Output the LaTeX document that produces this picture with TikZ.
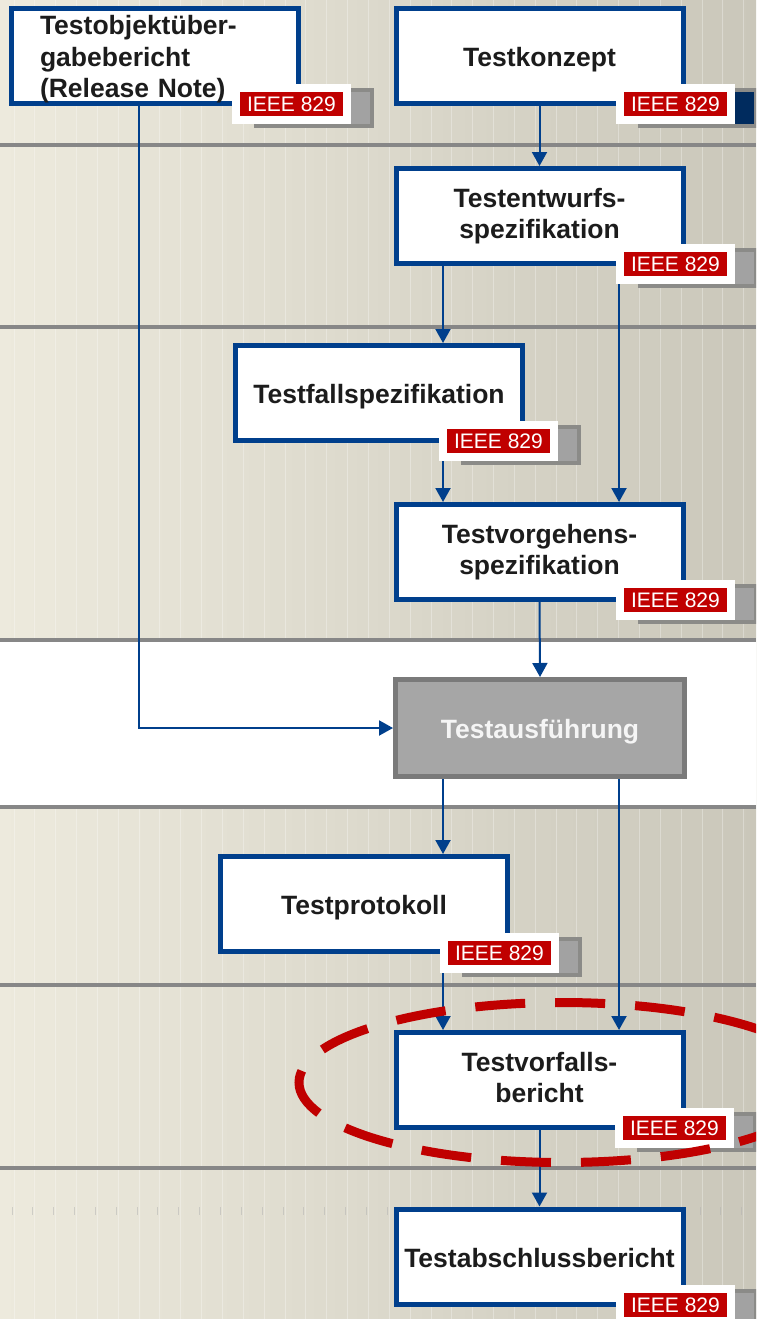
\documentclass[tikz,border=0pt]{standalone}
\usepackage{fontspec}
\setmainfont{Liberation Sans}
\usetikzlibrary{arrows.meta}

\definecolor{bgL}{HTML}{EDEADD}
\definecolor{bgR}{HTML}{CAC7BA}
\definecolor{rulegray}{HTML}{878787}
\definecolor{frameblue}{HTML}{003F8C}
\definecolor{ink}{HTML}{1C1C1C}
\definecolor{tagred}{HTML}{C00000}
\definecolor{shadefill}{HTML}{A2A2A2}
\definecolor{shadeline}{HTML}{8B8B88}
\definecolor{navyfill}{HTML}{002B5E}
\definecolor{runfill}{HTML}{A6A6A6}
\definecolor{runline}{HTML}{7A7A7A}

\tikzset{
  docbox/.style={draw=frameblue, fill=white, line width=5pt,
    minimum width=287pt, minimum height=95pt, inner xsep=4pt, inner ysep=0pt,
    align=center, text=ink, font=\bfseries\fontsize{26.5}{31.5}\selectfont,
    execute at begin node={\rule{0pt}{26pt}},
    execute at end node={\rule[-5pt]{0pt}{5pt}}},
  runbox/.style={docbox, draw=runline, fill=runfill, text=white!96!black,
    minimum width=289pt, minimum height=97pt},
  tagbox/.style={fill=tagred, draw=white, line width=8pt,
    minimum width=111pt, minimum height=32pt, inner sep=0pt,
    text=white, font=\fontsize{21}{24}\selectfont},
  conn/.style={draw=frameblue, line width=2pt,
    -{Triangle[width=15pt,length=14pt]}},
  bandrule/.style={draw=rulegray, line width=3.5pt},
  stripe/.style={draw=white, opacity=0.3, line width=1pt},
  tickmark/.style={draw=black!30, opacity=0.5, line width=1pt},
  focusring/.style={draw=tagred, line width=9pt,
    dash pattern=on 50pt off 30pt, dash phase=20pt}
}

% IEEE 829 label with its offset grey plate: [plate fill]{name}{x}{y}
\newcommand\ieeetag[4][shadefill]{%
  \filldraw[draw=shadeline, fill=#1, line width=4pt]
    (#3+24,#4+6) rectangle (#3+140,#4+42);
  \node[tagbox, anchor=north west] (#2) at (#3,#4) {IEEE 829};
}

\begin{document}
\begin{tikzpicture}[x=1pt,y=-1pt]
  \clip (0,0) rectangle (756,1319);

  % background bands
  \shade[left color=bgL, right color=bgR] (0,0) rectangle (756,1319);
  \foreach \i in {0,...,35}
    \draw[stripe] ({14+20.85*\i},0) -- ++(0,1319);
  \foreach \i in {0,...,35}
    \draw[tickmark] ({12+20.85*\i},1207) -- ++(0,8);
  \fill[white] (0,640) rectangle (756,807);
  \foreach \y in {145,327,640,807,985,1168}
    \draw[bandrule] (0,\y) -- (756,\y);

  % documents and activity
  \node[docbox, align=left, text width=230pt, inner xsep=28.5pt] (b1) at (155,56)
    {Testobjektüber-\\gabebericht\\(Release Note)};
  \node[docbox] (b2) at (539.5,56) {Testkonzept};
  \node[docbox] (b3) at (539.5,216) {Testentwurfs-\\spezifikation};
  \node[docbox] (b4) at (379,393) {Testfallspezifikation};
  \node[docbox] (b5) at (539.5,552) {Testvorgehens-\\spezifikation};
  \node[runbox] (b6) at (540,728) {Testausführung};
  \node[docbox] (b7) at (364,904) {Testprotokoll};
  \node[docbox] (b8) at (539.5,1080) {Testvorfalls-\\bericht};
  \node[docbox] (b9) at (539.5,1256.5) {Testabschlussbericht};

  % connector columns
  \coordinate (xa) at (139,0);
  \coordinate (xl) at (443,0);
  \coordinate (xr) at (619,0);

  \draw[conn] (b2.south) -- (b3.north);
  \draw[conn] (b3.south -| xl) -- (b4.north -| xl);
  \draw[conn] (b3.south -| xr) -- (b5.north -| xr);
  \draw[conn] (b4.south -| xl) -- (b5.north -| xl);
  \draw[conn] (b5.south) -- (b6.north);
  \draw[conn] (b1.south -| xa) |- (b6.west);
  \draw[conn] (b6.south -| xl) -- (b7.north -| xl);
  \draw[conn] (b6.south -| xr) -- (b8.north -| xr);
  \draw[conn] (b7.south -| xl) -- (b8.north -| xl);
  \draw[conn] (b8.south) -- (b9.north);

  % standard labels
  \ieeetag{t1}{232}{84}
  \ieeetag[navyfill]{t2}{616}{84}
  \ieeetag{t3}{616}{244}
  \ieeetag{t4}{439}{421}
  \ieeetag{t5}{616}{580}
  \ieeetag{t7}{440}{933}
  \ieeetag{t8}{615}{1108}
  \ieeetag{t9}{616}{1285}

  % highlight around the incident report
  \draw[focusring] (562,1082.5) ellipse [x radius=263, y radius=80];
\end{tikzpicture}
\end{document}
